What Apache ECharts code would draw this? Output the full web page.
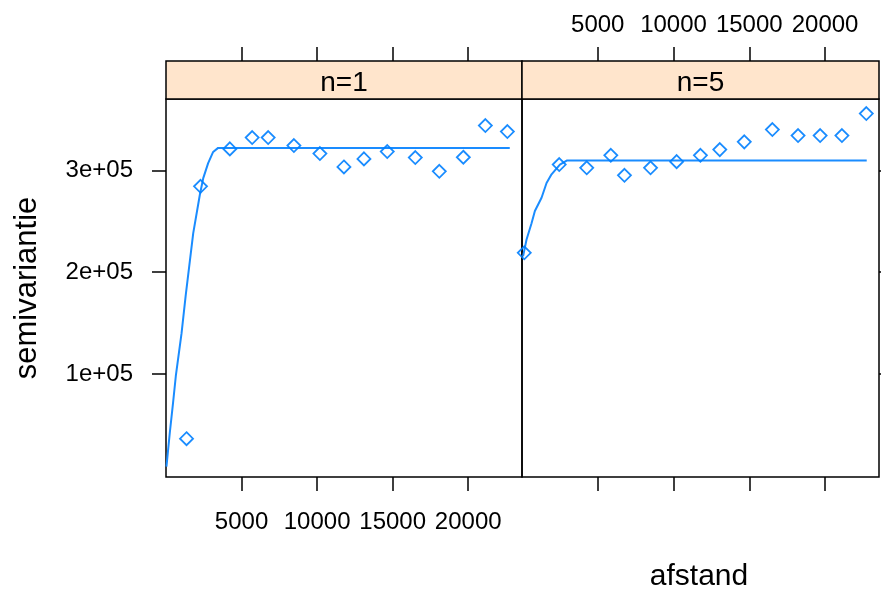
<!DOCTYPE html>
<html>
<head>
<meta charset="utf-8">
<script src="https://cdn.jsdelivr.net/npm/echarts@6/dist/echarts.min.js"></script>
<style>
html,body{margin:0;padding:0;background:#fff;}
#chart{width:881px;height:596px;}
</style>
</head>
<body>
<div id="chart"></div>
<script>
// ---- data ----
var panelLabels = ['n=1', 'n=5'];
var xTickValues = [5000, 10000, 15000, 20000];
var xTickLabels = ['5000', '10000', '15000', '20000'];
var yTickValues = [100000, 200000, 300000];
var yTickLabels = ['1e+05', '2e+05', '3e+05'];
var xTitle = 'afstand';
var yTitle = 'semivariantie';

// panel n=1: sample variogram
var distN1  = [1358, 2285, 4225, 5703, 6762, 8464, 10186, 11775, 13100, 14643, 16498, 18088, 19677, 21135, 22592];
var gammaN1 = [36400, 284300, 321000, 332100, 332100, 324300, 316400, 303300, 311200, 318400, 312500, 299000, 312800, 343900, 338000];
// panel n=1: fitted model line
var modelN1X = [30, 250, 470, 650, 1030, 1310, 1580, 1800, 2240, 2460, 2790, 3120, 3450, 22750];
var modelN1Y = [9000, 42000, 72000, 98000, 140000, 178000, 211000, 238000, 276000, 292000, 307000, 318000, 322000, 322000];

// panel n=5: sample variogram
var distN5  = [150, 2457, 4272, 5861, 6762, 8483, 10205, 11775, 13053, 14669, 16523, 18219, 19676, 21113, 22722];
var gammaN5 = [219000, 305600, 302400, 314700, 295100, 302400, 308500, 314700, 320300, 327900, 340000, 334100, 334100, 334100, 355700];
// panel n=5: fitted model line
var modelN5X = [70, 300, 630, 850, 1290, 1620, 1950, 2500, 2950, 22750];
var modelN5Y = [215500, 232000, 248000, 260000, 273000, 287500, 296000, 305500, 309500, 309500];

// ---- layout / style ----
var FONT = "'Liberation Sans', Arial, sans-serif";
var BLUE = '#0080ff';
var XMIN = 0, XMAX = 23560, YMIN = -1200, YMAX = 370000;
var panels = [
  {left: 166, width: 356},
  {left: 522, width: 357}
];
var TOP = 99, HEIGHT = 378, STRIP_H = 38;

function zip(a, b) { return a.map(function (v, i) { return [v, b[i]]; }); }
function xLabelFmt(v) { var i = xTickValues.indexOf(v); return i >= 0 ? xTickLabels[i] : ''; }
function yLabelFmt(v) { var i = yTickValues.indexOf(v); return i >= 0 ? yTickLabels[i] : ''; }

var tickLine = {color: '#000', width: 1.5};

function xAxis(grid, pos, showLabel) {
  return {
    type: 'value', gridIndex: grid, position: pos, offset: pos === 'top' ? STRIP_H : 0,
    min: XMIN, max: XMAX,
    axisLine: {show: false, onZero: false},
    splitLine: {show: false},
    axisTick: {show: true, inside: false, length: 14, customValues: xTickValues, lineStyle: tickLine},
    axisLabel: {show: showLabel, customValues: xTickValues, formatter: xLabelFmt,
      margin: pos === 'top' ? 24 : 33, color: '#000', fontSize: 24, fontFamily: FONT,
      showMinLabel: true, showMaxLabel: true, hideOverlap: false}
  };
}
function yAxis(grid, pos, showLabel) {
  return {
    type: 'value', gridIndex: grid, position: pos,
    min: YMIN, max: YMAX,
    axisLine: {show: false, onZero: false},
    splitLine: {show: false},
    axisTick: {show: true, inside: false, length: 14, customValues: yTickValues, lineStyle: tickLine},
    axisLabel: {show: showLabel, customValues: yTickValues, formatter: yLabelFmt,
      margin: 33, color: '#000', fontSize: 24, fontFamily: FONT, hideOverlap: false}
  };
}

var graphics = [];
panels.forEach(function (p, i) {
  graphics.push({
    type: 'rect', z: 10,
    shape: {x: p.left, y: TOP - STRIP_H, width: p.width, height: STRIP_H},
    style: {fill: '#ffe5cc', stroke: '#000', lineWidth: 1.5}
  });
  graphics.push({
    type: 'text', z: 11, x: p.left + p.width / 2, y: TOP - STRIP_H / 2 + 3,
    style: {text: panelLabels[i], textAlign: 'center', textVerticalAlign: 'middle',
      font: '28px ' + FONT, fill: '#000'}
  });
});
graphics.push({
  type: 'text', z: 11, x: 699, y: 577,
  style: {text: xTitle, textAlign: 'center', textVerticalAlign: 'middle', font: '30px ' + FONT, fill: '#000'}
});
graphics.push({
  type: 'text', z: 11, x: 27, y: 288, rotation: Math.PI / 2,
  style: {text: yTitle, textAlign: 'center', textVerticalAlign: 'middle', font: '31px ' + FONT, fill: '#000'}
});

function scatter(xi, yi, data) {
  return {
    type: 'scatter', xAxisIndex: xi, yAxisIndex: yi, data: data,
    symbol: 'diamond', symbolSize: 13, z: 4,
    itemStyle: {color: 'rgba(0,0,0,0)', borderColor: BLUE, borderWidth: 1.8, opacity: 0.9},
    emphasis: {disabled: true}
  };
}
function line(xi, yi, data) {
  return {
    type: 'line', xAxisIndex: xi, yAxisIndex: yi, data: data,
    showSymbol: false, symbol: 'none', smooth: false, z: 3,
    lineStyle: {color: '#1a8cff', width: 2},
    emphasis: {disabled: true}
  };
}

var chart = echarts.init(document.getElementById('chart'), null, {renderer: 'canvas'});
chart.setOption({
  animation: false,
  backgroundColor: '#fff',
  grid: panels.map(function (p) {
    return {left: p.left, top: TOP, width: p.width, height: HEIGHT,
      show: true, borderColor: '#000', borderWidth: 1.5, backgroundColor: 'transparent',
      containLabel: false, outerBoundsMode: 'none'};
  }),
  xAxis: [
    xAxis(0, 'bottom', true),
    xAxis(0, 'top', false),
    xAxis(1, 'bottom', false),
    xAxis(1, 'top', true)
  ],
  yAxis: [
    yAxis(0, 'left', true),
    yAxis(1, 'right', false)
  ],
  series: [
    line(0, 0, zip(modelN1X, modelN1Y)),
    scatter(0, 0, zip(distN1, gammaN1)),
    line(2, 1, zip(modelN5X, modelN5Y)),
    scatter(2, 1, zip(distN5, gammaN5))
  ],
  graphic: graphics
});
</script>
</body>
</html>
